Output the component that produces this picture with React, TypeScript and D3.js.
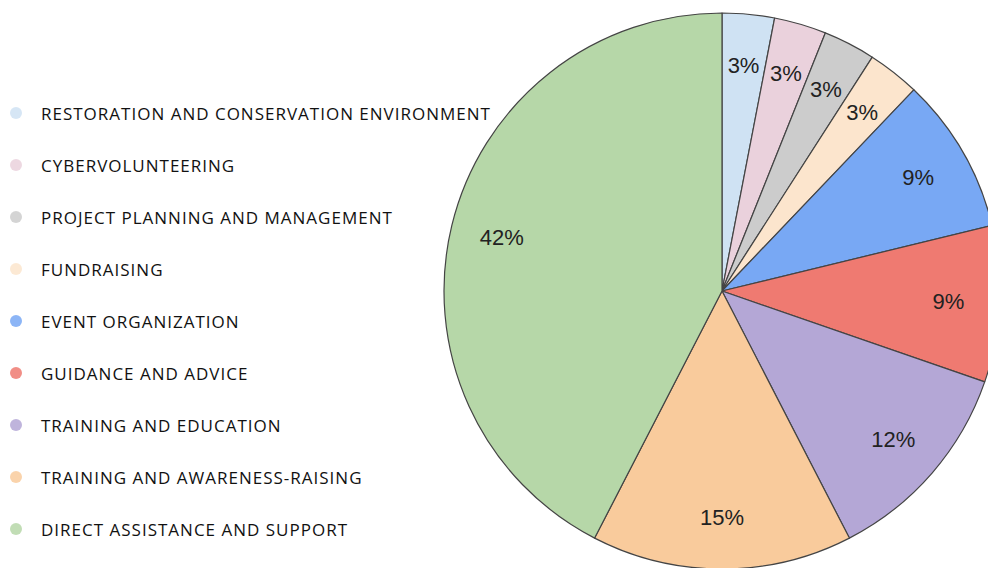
import React from "react";
import * as d3 from "d3";

const categories = [
  "RESTORATION AND CONSERVATION ENVIRONMENT",
  "CYBERVOLUNTEERING",
  "PROJECT PLANNING AND MANAGEMENT",
  "FUNDRAISING",
  "EVENT ORGANIZATION",
  "GUIDANCE AND ADVICE",
  "TRAINING AND EDUCATION",
  "TRAINING AND AWARENESS-RAISING",
  "DIRECT ASSISTANCE AND SUPPORT",
];
const values = [1, 1, 1, 1, 3, 3, 4, 5, 14];
const colors = [
  "#cfe2f3",
  "#ead1dc",
  "#cccccc",
  "#fce5cd",
  "#78a8f4",
  "#ef7a71",
  "#b4a7d6",
  "#f9cb9c",
  "#b6d7a8",
];

export default function App() {
  const W = 988;
  const H = 568;
  const cx = 722;
  const cy = 291;
  const R = 278;
  const total = d3.sum(values);
  const pie = d3.pie<number>().sort(null).value((d) => d);
  const arcs = pie(values);
  const arc = d3.arc<d3.PieArcDatum<number>>().innerRadius(0).outerRadius(R);
  const labelArc = d3
    .arc<d3.PieArcDatum<number>>()
    .innerRadius(R * 0.815)
    .outerRadius(R * 0.815);
  const legendY = d3
    .scalePoint<string>()
    .domain(categories)
    .range([113, 529]);

  return (
    <svg
      width={W}
      height={H}
      style={{ position: "absolute", left: 0, top: 0, background: "#fff" }}
    >
      <g transform={`translate(${cx},${cy})`}>
        {arcs.map((a, i) => (
          <path
            key={i}
            d={arc(a) || ""}
            fill={colors[i]}
            stroke="#444"
            strokeWidth={1.2}
            strokeLinejoin="round"
          />
        ))}
        {arcs.map((a, i) => {
          const [x, y] = labelArc.centroid(a);
          return (
            <text
              key={i}
              x={x}
              y={y}
              textAnchor="middle"
              dominantBaseline="central"
              fontFamily="Liberation Sans, Arial, sans-serif"
              fontSize={22}
              fill="#222"
            >
              {`${Math.round((values[i] / total) * 100)}%`}
            </text>
          );
        })}
      </g>
      {categories.map((c, i) => (
        <g key={c}>
          <circle
            cx={16}
            cy={legendY(c)!}
            r={6}
            fill={colors[i]}
            opacity={0.85}
          />
          <text
            x={41}
            y={legendY(c)!}
            dominantBaseline="central"
            fontFamily="Open Sans, sans-serif"
            fontSize={17}
            letterSpacing={1}
            fill="#111"
          >
            {c}
          </text>
        </g>
      ))}
    </svg>
  );
}
